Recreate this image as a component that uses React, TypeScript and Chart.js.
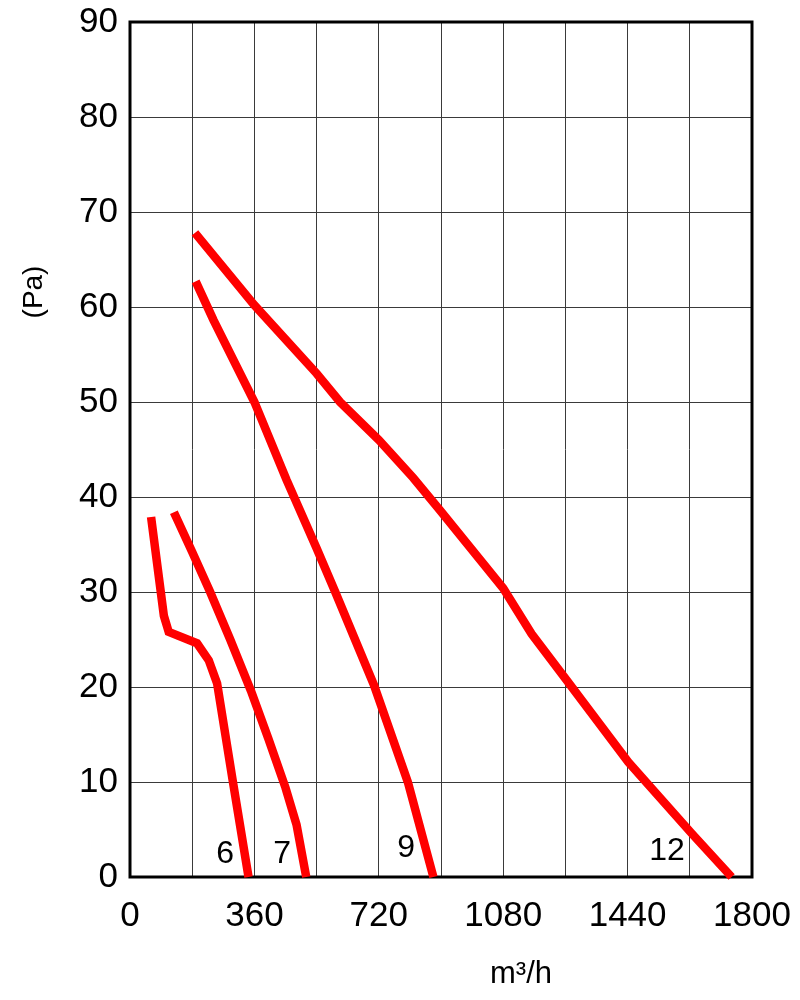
import React, { useEffect, useRef } from "react";
import { Chart, registerables } from "chart.js";

Chart.register(...registerables);

const xTickLabels = [0, 360, 720, 1080, 1440, 1800];
const yTickLabels = [0, 10, 20, 30, 40, 50, 60, 70, 80, 90];

const curveNames = ["6", "7", "9", "12"];

const curve6X = [61, 98, 112, 194, 228, 252, 297, 343];
const curve6Y = [37.9, 27.5, 25.8, 24.6, 22.8, 20.4, 10.2, 0];

const curve7X = [127, 180, 232, 290, 350, 400, 450, 482, 510];
const curve7Y = [38.4, 34.2, 30, 25.0, 19.6, 14.6, 9.4, 5.5, 0];

const curve9X = [190, 242, 360, 453, 540, 594, 706, 804, 878];
const curve9Y = [62.7, 58.6, 50, 41.8, 34.6, 30, 20.2, 10, 0];

const curve12X = [188, 360, 540, 608, 720, 820, 897, 1080, 1162, 1264, 1442, 1625, 1741];
const curve12Y = [67.8, 60.2, 53.0, 50.0, 46, 42, 38.6, 30.4, 25.6, 20.7, 12.1, 4.6, 0];

const yTitle = "(Pa)";
const xTitle = "m³/h";

// anchor (in data units) of each curve's number label
const labelAnchorX = [275, 440, 799, 1554];
const labelAnchorY = [2.4, 2.4, 3.05, 2.7];

const FONT = "'Liberation Sans', Arial, sans-serif";

function toPoints(xs: number[], ys: number[]) {
  return xs.map((x, i) => ({ x, y: ys[i] }));
}

export default function App() {
  const ref = useRef<HTMLCanvasElement | null>(null);

  useEffect(() => {
    document.body.style.margin = "0";
    const canvas = ref.current;
    if (!canvas) return;

    const curves = [
      toPoints(curve6X, curve6Y),
      toPoints(curve7X, curve7Y),
      toPoints(curve9X, curve9Y),
      toPoints(curve12X, curve12Y),
    ];

    const decor = {
      id: "decor",
      beforeDatasetsDraw(chart: any) {
        const { ctx, chartArea } = chart;
        ctx.save();
        ctx.strokeStyle = "#000";
        ctx.lineWidth = 3;
        ctx.strokeRect(
          chartArea.left,
          chartArea.top,
          chartArea.right - chartArea.left,
          chartArea.bottom - chartArea.top
        );
        ctx.restore();
      },
      afterDraw(chart: any) {
        const { ctx } = chart;
        const xs = chart.scales.x;
        const ys = chart.scales.y;
        ctx.save();
        ctx.fillStyle = "#000";
        ctx.textAlign = "center";
        ctx.textBaseline = "middle";
        ctx.font = `32px ${FONT}`;
        curveNames.forEach((n, i) => {
          ctx.fillText(
            n,
            xs.getPixelForValue(labelAnchorX[i]),
            ys.getPixelForValue(labelAnchorY[i])
          );
        });
        // x title
        ctx.font = `31px ${FONT}`;
        ctx.fillText(xTitle, 521, 974);
        // y title
        ctx.translate(34, 292);
        ctx.rotate(-Math.PI / 2);
        ctx.font = `28px ${FONT}`;
        ctx.fillText(yTitle, 0, 0);
        ctx.restore();
      },
    };

    const chart = new Chart(canvas, {
      type: "line",
      data: {
        datasets: curves.map((pts, i) => ({
          label: curveNames[i],
          data: pts,
          borderColor: "#ff0000",
          borderWidth: 8.5,
          borderCapStyle: "butt",
          borderJoinStyle: "miter",
          pointRadius: 0,
          fill: false,
          tension: 0,
          clip: false,
        })),
      },
      options: {
        responsive: false,
        animation: false,
        layout: { padding: { top: 22, right: 48, bottom: 0, left: 0 } },
        plugins: {
          legend: { display: false },
          tooltip: { enabled: false },
          title: { display: false },
        },
        scales: {
          x: {
            type: "linear",
            min: 0,
            max: 1800,
            afterFit(scale: any) {
              scale.height = 123;
              scale.paddingLeft = 0;
              scale.paddingRight = 0;
            },
            grid: { color: "#3a3a3a", lineWidth: 1, drawTicks: false },
            border: { display: false },
            ticks: {
              stepSize: 180,
              autoSkip: false,
              maxRotation: 0,
              padding: 18,
              color: "#000",
              font: { family: FONT, size: 35 },
              callback: (v: any) => (xTickLabels.includes(Number(v)) ? String(v) : ""),
            },
          },
          y: {
            type: "linear",
            min: 0,
            max: 90,
            afterFit(scale: any) {
              scale.width = 130;
              scale.paddingTop = 0;
              scale.paddingBottom = 0;
            },
            grid: { color: "#3a3a3a", lineWidth: 1, drawTicks: false },
            border: { display: false },
            ticks: {
              stepSize: 10,
              padding: 12,
              color: "#000",
              font: { family: FONT, size: 35 },
              callback: (v: any) => (yTickLabels.includes(Number(v)) ? String(v) : ""),
            },
          },
        },
      },
      plugins: [decor],
    } as any);

    return () => chart.destroy();
  }, []);

  return <canvas ref={ref} width={800} height={1000} style={{ display: "block" }} />;
}
